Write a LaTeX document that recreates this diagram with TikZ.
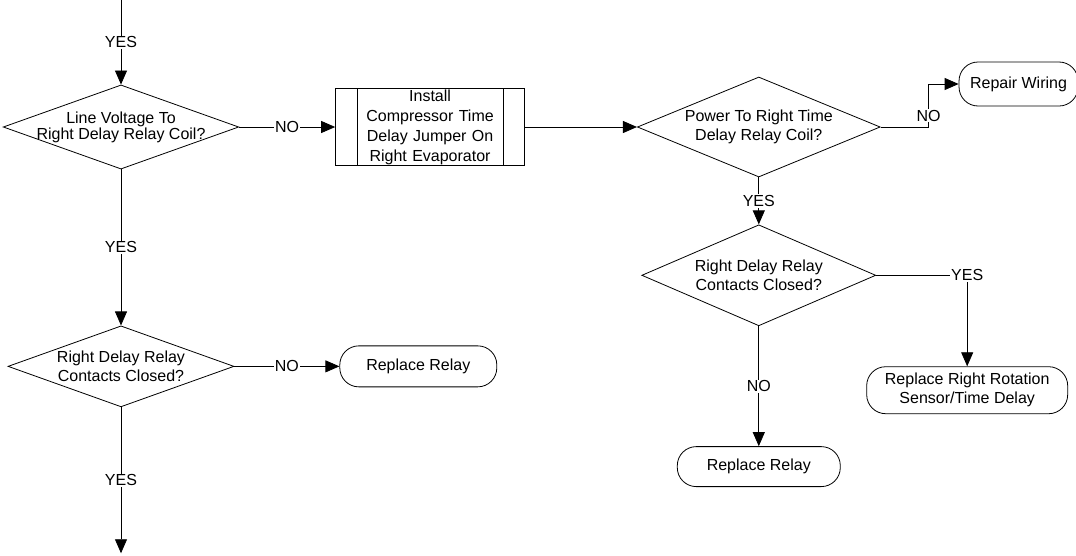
\documentclass[tikz,border=0pt]{standalone}
\usepackage{fontspec}
\setmainfont{Liberation Sans}
\usetikzlibrary{arrows.meta, positioning, shapes.geometric}

\begin{document}
\begin{tikzpicture}[
    font=\fontsize{16}{19}\selectfont,
    >={Triangle[length=14pt, width=12pt]},
    decision/.style={diamond, draw, line width=0.8pt, aspect=2.8, inner sep=0pt, align=center},
    terminal/.style={rectangle, rounded corners=19pt, draw, line width=0.8pt, inner xsep=6pt, inner ysep=0pt, align=center},
    procnode/.style={rectangle, draw, line width=0.8pt, inner sep=0pt, align=center, text width=150pt, minimum width=189pt, minimum height=77pt, font=\fontsize{16}{20}\selectfont},
    lbl/.style={fill=white, inner sep=1pt},
    arrow/.style={->, line width=0.8pt}
]

\useasboundingbox (0,0) rectangle (1076pt,-555pt);

\coordinate (start) at (121pt,0);
\node[decision, minimum width=233pt, minimum height=83pt, inner xsep=-10pt, font=\fontsize{16}{16}\selectfont] (linevolt) at (121pt,-127pt) {Line Voltage To\\Right Delay Relay Coil?};
\node[procnode, right=96pt of linevolt] (jumper) {Install\\Compressor Time\\Delay Jumper On\\Right Evaporator};
\node[decision, minimum width=240pt, minimum height=100pt, right=112pt of jumper] (powercoil) {Power To Right Time\\Delay Relay Coil?};
\node[terminal, minimum width=119pt, minimum height=44pt, right=78pt of powercoil, yshift=43pt] (wiring) {Repair Wiring};

\node[decision, minimum width=234pt, minimum height=101pt, below=47pt of powercoil] (contactsR) {Right Delay Relay\\Contacts Closed?};
\node[terminal, minimum width=201pt, minimum height=47pt, below=91pt of contactsR.east, xshift=91pt] (rotation) {Replace Right Rotation\\Sensor/Time Delay};
\node[terminal, minimum width=163pt, minimum height=40pt, below=120pt of contactsR] (relayR) {Replace Relay};

\node[decision, minimum width=226pt, minimum height=81pt, below=156pt of linevolt] (contactsL) {Right Delay Relay\\Contacts Closed?};
\node[terminal, minimum width=157pt, minimum height=41pt, right=105pt of contactsL] (relayL) {Replace Relay};
\coordinate[below=146pt of contactsL] (exit);

\draw ([xshift=22pt]jumper.north west) -- ([xshift=22pt]jumper.south west);
\draw ([xshift=-22pt]jumper.north east) -- ([xshift=-22pt]jumper.south east);

\draw[arrow] (start) -- node[lbl] {YES} (linevolt);
\draw[arrow] (linevolt) -- node[lbl] {NO} (jumper);
\draw[arrow] (jumper) -- (powercoil);
\draw[arrow] (powercoil.east) -| node[lbl, pos=0.63] {NO} ([xshift=-30pt]wiring.west) -- (wiring);
\draw[arrow] (powercoil) -- node[lbl] {YES} (contactsR);
\draw[arrow] (contactsR) -| node[lbl] {YES} (rotation);
\draw[arrow] (contactsR) -- node[lbl] {NO} (relayR);

\draw[arrow] (linevolt) -- node[lbl] {YES} (contactsL);
\draw[arrow] (contactsL) -- node[lbl] {NO} (relayL);
\draw[arrow] (contactsL) -- node[lbl] {YES} (exit);

\end{tikzpicture}
\end{document}
